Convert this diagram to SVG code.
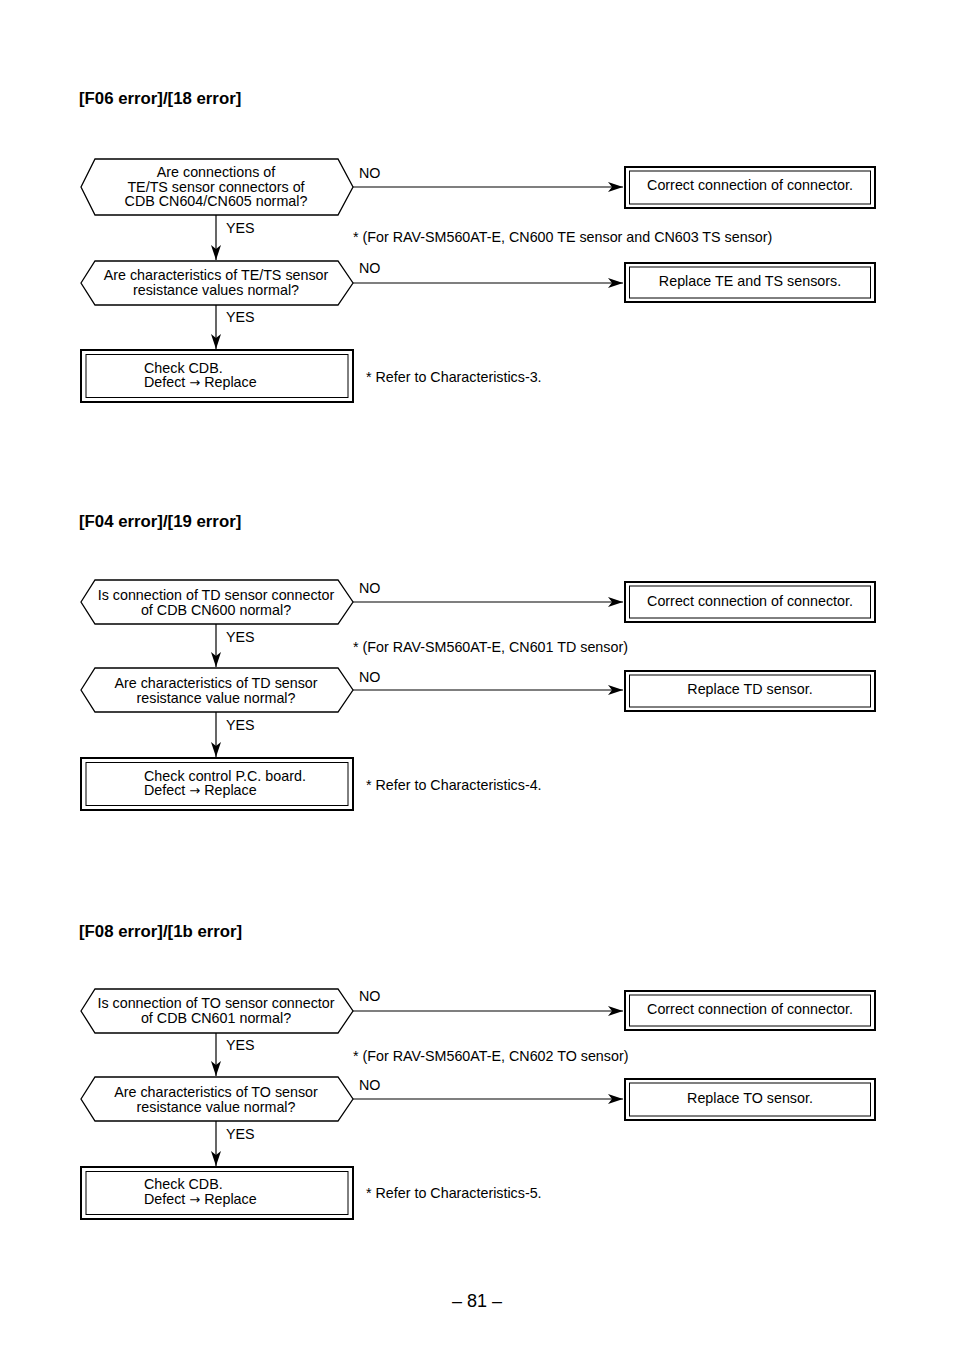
<svg xmlns="http://www.w3.org/2000/svg" width="954" height="1348" viewBox="0 0 954 1348">
<defs>
<marker id="ah" markerWidth="16" markerHeight="12" refX="15" refY="6" orient="auto" markerUnits="userSpaceOnUse">
<path d="M0,1 L15,6 L0,11 L4,6 Z" fill="#000"/>
</marker>
</defs>
<style>
text{font-family:"Liberation Sans",Arial,sans-serif;font-size:14.3px;fill:#000}
.t{font-weight:bold;font-size:16.8px}
.c{text-anchor:middle}
.ar{font-family:"DejaVu Sans",sans-serif;font-size:13px}
.hex{fill:#fff;stroke:#000;stroke-width:1.3}
.ob{fill:#fff;stroke:#000;stroke-width:2}
.ib{fill:none;stroke:#000;stroke-width:1}
.ln{stroke:#000;stroke-width:1.2;fill:none;marker-end:url(#ah)}
.pg{font-size:18px}
</style>
<rect width="954" height="1348" fill="#fff"/>

<!-- Section 1 -->
<text class="t" x="79" y="104">[F06 error]/[18 error]</text>
<g id="s1q1">
<polygon class="hex" points="81,187 95,159 338,159 353,187 338,215 95,215"/>
<text class="c" x="216" y="177">Are connections of</text>
<text class="c" x="216" y="191.5">TE/TS sensor connectors of</text>
<text class="c" x="216" y="206">CDB CN604/CN605 normal?</text>
</g>
<g id="s1r1">
<rect class="ob" x="625" y="167" width="250" height="41"/>
<rect class="ib" x="629.5" y="171" width="241" height="33"/>
<text class="c" x="750" y="190">Correct connection of connector.</text>
</g>
<g id="s1q2">
<polygon class="hex" points="81,283 95,261 338,261 353,283 338,305 95,305"/>
<text class="c" x="216" y="280">Are characteristics of TE/TS sensor</text>
<text class="c" x="216" y="294.5">resistance values normal?</text>
</g>
<g id="s1r2">
<rect class="ob" x="625" y="263" width="250" height="39"/>
<rect class="ib" x="629.5" y="267" width="241" height="31"/>
<text class="c" x="750" y="286">Replace TE and TS sensors.</text>
</g>
<g id="s1b">
<rect class="ob" x="81" y="350" width="272" height="52"/>
<rect class="ib" x="86" y="354.5" width="262" height="43"/>
<text x="144" y="373">Check CDB.</text>
<text x="144" y="387">Defect <tspan class="ar">→</tspan> Replace</text>
</g>
<text x="359" y="178">NO</text>
<text x="359" y="273">NO</text>
<text x="226" y="233">YES</text>
<text x="226" y="322">YES</text>
<text x="353" y="242">* (For RAV-SM560AT-E, CN600 TE sensor and CN603 TS sensor)</text>
<text x="366" y="382">* Refer to Characteristics-3.</text>

<!-- Section 2 -->
<text class="t" x="79" y="527">[F04 error]/[19 error]</text>
<g id="s2q1">
<polygon class="hex" points="81,602 95,580 338,580 353,602 338,624 95,624"/>
<text class="c" x="216" y="600">Is connection of TD sensor connector</text>
<text class="c" x="216" y="614.5">of CDB CN600 normal?</text>
</g>
<g id="s2r1">
<rect class="ob" x="625" y="582" width="250" height="40"/>
<rect class="ib" x="629.5" y="586" width="241" height="32"/>
<text class="c" x="750" y="606">Correct connection of connector.</text>
</g>
<g id="s2q2">
<polygon class="hex" points="81,690 95,668 338,668 353,690 338,712 95,712"/>
<text class="c" x="216" y="688">Are characteristics of TD sensor</text>
<text class="c" x="216" y="702.5">resistance value normal?</text>
</g>
<g id="s2r2">
<rect class="ob" x="625" y="671" width="250" height="40"/>
<rect class="ib" x="629.5" y="675" width="241" height="32"/>
<text class="c" x="750" y="694">Replace TD sensor.</text>
</g>
<g id="s2b">
<rect class="ob" x="81" y="758" width="272" height="52"/>
<rect class="ib" x="86" y="762.5" width="262" height="43"/>
<text x="144" y="781">Check control P.C. board.</text>
<text x="144" y="795">Defect <tspan class="ar">→</tspan> Replace</text>
</g>
<text x="359" y="593">NO</text>
<text x="359" y="682">NO</text>
<text x="226" y="642">YES</text>
<text x="226" y="730">YES</text>
<text x="353" y="652">* (For RAV-SM560AT-E, CN601 TD sensor)</text>
<text x="366" y="790">* Refer to Characteristics-4.</text>

<!-- Section 3 -->
<text class="t" x="79" y="937">[F08 error]/[1b error]</text>
<g id="s3q1">
<polygon class="hex" points="81,1011 95,989 338,989 353,1011 338,1033 95,1033"/>
<text class="c" x="216" y="1008">Is connection of TO sensor connector</text>
<text class="c" x="216" y="1022.5">of CDB CN601 normal?</text>
</g>
<g id="s3r1">
<rect class="ob" x="625" y="991" width="250" height="39"/>
<rect class="ib" x="629.5" y="995" width="241" height="31"/>
<text class="c" x="750" y="1014">Correct connection of connector.</text>
</g>
<g id="s3q2">
<polygon class="hex" points="81,1099 95,1077 338,1077 353,1099 338,1121 95,1121"/>
<text class="c" x="216" y="1097">Are characteristics of TO sensor</text>
<text class="c" x="216" y="1111.5">resistance value normal?</text>
</g>
<g id="s3r2">
<rect class="ob" x="625" y="1079" width="250" height="41"/>
<rect class="ib" x="629.5" y="1083" width="241" height="33"/>
<text class="c" x="750" y="1103">Replace TO sensor.</text>
</g>
<g id="s3b">
<rect class="ob" x="81" y="1167" width="272" height="52"/>
<rect class="ib" x="86" y="1171.5" width="262" height="43"/>
<text x="144" y="1189">Check CDB.</text>
<text x="144" y="1204">Defect <tspan class="ar">→</tspan> Replace</text>
</g>
<text x="359" y="1001">NO</text>
<text x="359" y="1090">NO</text>
<text x="226" y="1050">YES</text>
<text x="226" y="1139">YES</text>
<text x="353" y="1061">* (For RAV-SM560AT-E, CN602 TO sensor)</text>
<text x="366" y="1198">* Refer to Characteristics-5.</text>

<g id="connectors">
<line class="ln" x1="353" y1="187" x2="623" y2="187"/>
<line class="ln" x1="216" y1="215" x2="216" y2="260"/>
<line class="ln" x1="353" y1="283" x2="623" y2="283"/>
<line class="ln" x1="216" y1="305" x2="216" y2="349"/>
<line class="ln" x1="353" y1="602" x2="623" y2="602"/>
<line class="ln" x1="216" y1="624" x2="216" y2="667"/>
<line class="ln" x1="353" y1="690" x2="623" y2="690"/>
<line class="ln" x1="216" y1="712" x2="216" y2="757"/>
<line class="ln" x1="353" y1="1011" x2="623" y2="1011"/>
<line class="ln" x1="216" y1="1033" x2="216" y2="1076"/>
<line class="ln" x1="353" y1="1099" x2="623" y2="1099"/>
<line class="ln" x1="216" y1="1121" x2="216" y2="1166"/>
</g>

<text class="c pg" x="477" y="1307">– 81 –</text>
</svg>
